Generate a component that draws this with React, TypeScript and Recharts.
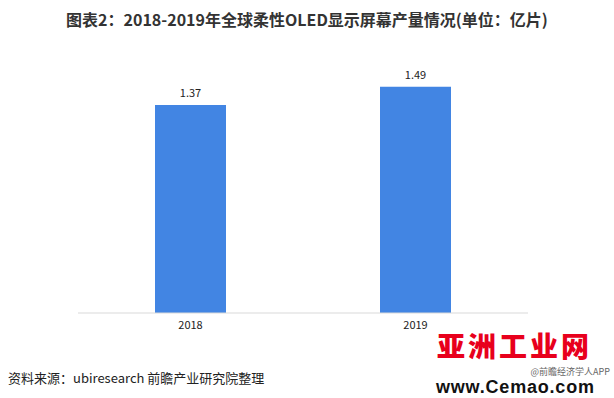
import { Bar, BarChart, LabelList, XAxis, YAxis } from 'recharts'

const YEARS = ['2018', '2019']
const OUTPUT = [1.37, 1.49]

const data = YEARS.map((year, i) => ({ year, value: OUTPUT[i] }))

const FONT = '"Noto Sans CJK SC", "Noto Sans", sans-serif'
const BLUE = '#4285E3'

export default function App() {
  return (
    <div
      style={{
        position: 'absolute',
        left: 0,
        top: 0,
        width: 614,
        height: 398,
        background: '#fff',
        fontFamily: FONT,
        overflow: 'hidden',
      }}
    >
      <div
        style={{
          position: 'absolute',
          top: 7,
          left: 0,
          width: 614,
          textAlign: 'center',
          fontSize: 16,
          fontWeight: 700,
          color: '#333',
        }}
      >
        图表2：2018-2019年全球柔性OLED显示屏幕产量情况(单位：亿片)
      </div>

      <BarChart
        width={614}
        height={398}
        data={data}
        margin={{ top: 70, right: 86, bottom: 55, left: 78 }}
        style={{ position: 'absolute', left: 0, top: 0 }}
      >
        <XAxis
          dataKey="year"
          height={30}
          tickLine={false}
          axisLine={{ stroke: '#d9d9d9' }}
          tick={{ fontSize: 11, fill: '#222', fontFamily: FONT }}
        />
        <YAxis hide domain={[0, 1.6]} />
        <Bar dataKey="value" fill={BLUE} barSize={71} isAnimationActive={false}>
          <LabelList
            dataKey="value"
            position="top"
            offset={8}
            style={{ fontSize: 11, fill: '#222', fontFamily: FONT }}
          />
        </Bar>
      </BarChart>

      <div
        style={{
          position: 'absolute',
          left: 8,
          top: 368,
          fontSize: 13,
          color: '#222',
        }}
      >
        资料来源：ubiresearch 前瞻产业研究院整理
      </div>

      {/* site stamp, bottom right */}
      <div
        style={{
          position: 'absolute',
          left: 437,
          top: 331,
          fontSize: 28,
          fontWeight: 900,
          color: '#e8001c',
          letterSpacing: 3,
          lineHeight: '28px',
        }}
      >
        亚洲工业网
      </div>
      <div
        style={{
          position: 'absolute',
          right: 4,
          top: 367,
          fontSize: 9,
          color: '#666',
          lineHeight: '9px',
        }}
      >
        @前瞻经济学人APP
      </div>
      <div
        style={{
          position: 'absolute',
          left: 436,
          top: 380,
          fontSize: 18,
          fontWeight: 900,
          color: '#111',
          fontFamily: '"Liberation Sans", Arial, sans-serif',
          lineHeight: '15px',
          letterSpacing: 0.8,
        }}
      >
        www.Cemao.com
      </div>
    </div>
  )
}
